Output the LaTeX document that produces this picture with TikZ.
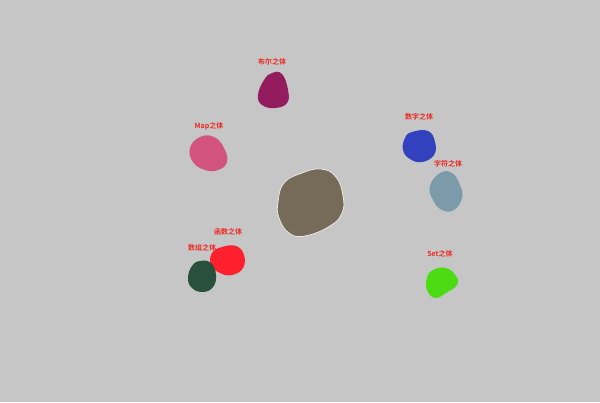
\documentclass[tikz,border=0pt]{standalone}
\usepackage{fontspec}
\setmainfont{Noto Sans CJK SC}[BoldFont={* Bold}]
\usetikzlibrary{positioning}
\definecolor{bg}{RGB}{198,198,198}
\definecolor{tagred}{RGB}{238,40,32}
\definecolor{core}{RGB}{117,107,88}
\definecolor{boolc}{RGB}{147,28,95}
\definecolor{mapc}{RGB}{210,83,125}
\definecolor{numc}{RGB}{50,65,190}
\definecolor{charc}{RGB}{123,155,170}
\definecolor{func}{RGB}{255,32,45}
\definecolor{arrc}{RGB}{40,80,60}
\definecolor{setc}{RGB}{75,220,20}

\begin{document}
\begin{tikzpicture}[x=1pt,y=-1pt,font=\bfseries\fontsize{7}{8}\selectfont,
	tag/.style={text=tagred,inner sep=0pt},
	blob/.style={smooth cycle,tension=0.75}]
	\fill [bg] (0,0) rectangle (600,402);
	\useasboundingbox (0,0) rectangle (600,402);

	% core
	\fill [core,draw=white!85!core,line width=0.8pt] plot [blob] coordinates {(278,202) (284,183) (302,173) (321,169) (336,177) (343,196) (342,213) (330,226) (305,236) (289,233) (279,218)};

	% bodies
	\fill [boolc] plot [blob] coordinates {(272,73) (282,74) (288,90) (287,103) (275,108) (262,105) (258,95) (264,80)};
	\fill [mapc] plot [blob] coordinates {(200,137) (214,137) (224,148) (227,162) (218,170) (205,170) (193,162) (190,148)};
	\fill [numc] plot [blob] coordinates {(412,132) (428,131) (435,142) (434,155) (422,162) (410,159) (403,150) (405,138)};
	\fill [charc] plot [blob] coordinates {(440,173) (452,173) (460,185) (462,198) (454,210) (442,210) (433,200) (430,186)};
	\fill [func] plot [blob] coordinates {(222,247) (236,246) (244,255) (243,268) (232,275) (220,273) (211,265) (212,253)};
	\fill [arrc] plot [blob] coordinates {(200,261) (211,263) (216,275) (213,287) (203,292) (192,288) (188,278) (192,266)};
	\fill [setc] plot [blob] coordinates {(433,270) (446,268) (456,276) (457,285) (446,293) (435,298) (427,290) (427,278)};

	\node [tag] at (272,62) (boolt) {布尔之体};
	\node [tag] at (209,126) (mapt) {Map之体};
	\node [tag] at (419,117) (numt) {数字之体};
	\node [tag] at (448,164) (chart) {字符之体};
	\node [tag] at (228,232) (funct) {函数之体};
	\node [tag] at (202,248) (arrt) {数组之体};
	\node [tag] at (440,254) (sett) {Set之体};
\end{tikzpicture}
\end{document}
